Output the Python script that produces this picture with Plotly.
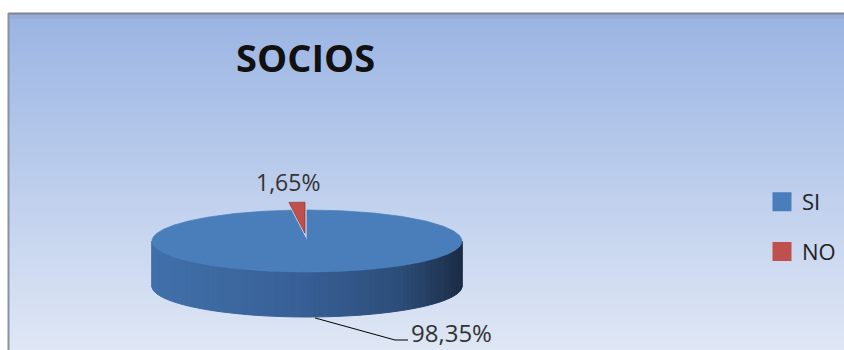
import numpy as np
import plotly.graph_objects as go

# ---------------- data ----------------
title_text = "SOCIOS"
labels = ["SI", "NO"]
values = [98.35, 1.65]
label_texts = ["98,35%", "1,65%"]
slice_colors = ["#4a7ebb", "#c0504d"]
explode = [0.0, 0.25]

# ---------------- layout constants ----------------
W, H = 844, 350
CX, CY = 307, 241      # centre of top face (px)
RX, RY = 155, 31       # ellipse radii
DEPTH = 45             # thickness of the pie

fig = go.Figure()

# background gradient (chart area)
bg_top, bg_bot = "#9ab4e3", "#dfe7f5"
rows = np.arange(14, H + 1)
fig.add_trace(go.Heatmap(
    z=[[float(r)] for r in rows], x0=(9 + W) / 2, dx=W - 9, y0=rows[0] + 0.5, dy=1,
    colorscale=[[0, bg_top], [1, bg_bot]], showscale=False, hoverinfo="skip"))


def pt(theta, dy=0.0, ox=0.0, oy=0.0):
    """theta in degrees, clockwise from 12 o'clock."""
    t = np.radians(theta)
    return CX + ox + RX * np.sin(t), CY + oy - RY * np.cos(t) + dy


def hex2rgb(h):
    h = h.lstrip("#")
    return np.array([int(h[i:i + 2], 16) for i in (0, 2, 4)], float)


def mix(c1, c2, f):
    f = min(max(f, 0.0), 1.0)
    c = hex2rgb(c1) * (1 - f) + hex2rgb(c2) * f
    return "rgb(%d,%d,%d)" % tuple(np.round(c))


total = sum(values)
fracs = [v / total for v in values]
starts = np.cumsum([0] + fracs[:-1]) * 360
ends = starts + np.array(fracs) * 360
mids = (starts + ends) / 2
offsets = [(e * RX * np.sin(np.radians(m)), -e * RY * np.cos(np.radians(m)))
           for e, m in zip(explode, mids)]

side_shades = {"#4a7ebb": ("#4170aa", "#375f95", "#1b2d46"),
               "#c0504d": ("#b04744", "#953a38", "#5e2221")}

# cut face of the SI slice seen through the gap left by the exploded slice
ox, oy = offsets[0]
xa, ya = pt(ends[0], 0, ox, oy)
xb, yb = pt(ends[0], DEPTH, ox, oy)
fig.add_trace(go.Scatter(
    x=[CX + ox, xa, xb, CX + ox, CX + ox], y=[CY + oy, ya, yb, CY + oy + DEPTH, CY + oy],
    mode="lines", fill="toself", fillcolor="#3f6ba3", line=dict(color="#3f6ba3", width=0.5),
    hoverinfo="skip", showlegend=False))

# front side walls (visible half: 90..270 deg)
for s, e, col, (ox, oy) in zip(starts, ends, slice_colors, offsets):
    a0, a1 = max(s, 90), min(e, 270)
    if a1 <= a0:
        continue
    n = max(2, int((a1 - a0) / 2))
    edges = np.linspace(a0, a1, n + 1)
    left_c, mid_c, right_c = side_shades[col]
    for i in range(n):
        th = np.linspace(edges[i], edges[i + 1], 4)
        xs_t, ys_t = pt(th, 0, ox, oy)
        xs_b, ys_b = pt(th[::-1], DEPTH, ox, oy)
        xm = (pt((edges[i] + edges[i + 1]) / 2)[0] - (CX - RX)) / (2 * RX)
        if xm < 0.5:
            c = mix(left_c, mid_c, xm / 0.5)
        elif xm < 0.8:
            c = mix(mid_c, "#2c4d78", (xm - 0.5) / 0.3)
        else:
            c = mix("#2c4d78", right_c, (xm - 0.8) / 0.2)
        fig.add_trace(go.Scatter(
            x=np.concatenate([xs_t, xs_b, xs_t[:1]]),
            y=np.concatenate([ys_t, ys_b, ys_t[:1]]),
            mode="lines", fill="toself", fillcolor=c, line=dict(color=c, width=1),
            hoverinfo="skip", showlegend=False))

# top faces
edge_cols = ["#4a7ebb", "#8e302e"]
for s, e, col, lab, (ox, oy), ec in zip(starts, ends, slice_colors, labels, offsets, edge_cols):
    th = np.linspace(s, e, max(3, int(e - s) * 2))
    xs, ys = pt(th, 0, ox, oy)
    fig.add_trace(go.Scatter(
        x=np.concatenate([[CX + ox], xs, [CX + ox]]), y=np.concatenate([[CY + oy], ys, [CY + oy]]),
        mode="lines", fill="toself", fillcolor=col, line=dict(color=ec, width=0.7),
        hoverinfo="skip", showlegend=False, name=lab))

# data labels
# SI label with leader line from the bottom of the side wall
x0, y0 = pt(mids[0], DEPTH + 1, *offsets[0])
lx, ly = 408, 340
fig.add_trace(go.Scatter(x=[x0, lx - 13, lx], y=[y0, ly, ly], mode="lines",
                         line=dict(color="#000000", width=1),
                         hoverinfo="skip", showlegend=False))
fig.add_annotation(x=lx + 1, y=ly - 8, text=label_texts[0], showarrow=False,
                   xanchor="left", yanchor="middle",
                   font=dict(family="Open Sans", size=24, color="#333333"))
# NO label above the slice
nx, ny = pt(mids[1], 0, *offsets[1])
fig.add_annotation(x=nx - 9, y=ny - 20, text=label_texts[1], showarrow=False,
                   xanchor="center", yanchor="middle",
                   font=dict(family="Open Sans", size=23, color="#333333"))

# title
fig.add_annotation(x=305, y=57, text="<b>%s</b>" % title_text, showarrow=False,
                   xanchor="center", yanchor="middle",
                   font=dict(family="Open Sans", size=38, color="#111111"))

# legend entries
for lab, col in zip(labels, slice_colors):
    fig.add_trace(go.Scatter(x=[None], y=[None], mode="markers", name=lab,
                             legendgroup=lab,
                             marker=dict(symbol="square", size=16, color=col,
                                         line=dict(color=col, width=3))))

# chart-area border
shapes = [
    dict(type="rect", xref="x", yref="y", x0=9, x1=W, y0=14, y1=19,
         fillcolor="rgba(150,160,180,0.35)", line=dict(width=0), layer="above"),
    dict(type="line", xref="x", yref="y", x0=8, x1=W, y0=13.5, y1=13.5,
         line=dict(color="#7c8595", width=2)),
    dict(type="line", xref="x", yref="y", x0=8.5, x1=8.5, y0=13, y1=H,
         line=dict(color="#8a929f", width=2)),
]

fig.update_layout(
    width=W, height=H, margin=dict(l=0, r=0, t=0, b=0),
    paper_bgcolor="white", plot_bgcolor="white",
    xaxis=dict(range=[0, W], visible=False, fixedrange=True),
    yaxis=dict(range=[H, 0], visible=False, fixedrange=True),
    shapes=shapes,
    showlegend=True,
    legend=dict(x=762 / W, y=1 - 181 / H, xanchor="left", yanchor="top",
                bgcolor="rgba(0,0,0,0)", tracegroupgap=18,
                font=dict(family="Open Sans", size=22, color="#222222")),
)

fig.write_html("out.html")
